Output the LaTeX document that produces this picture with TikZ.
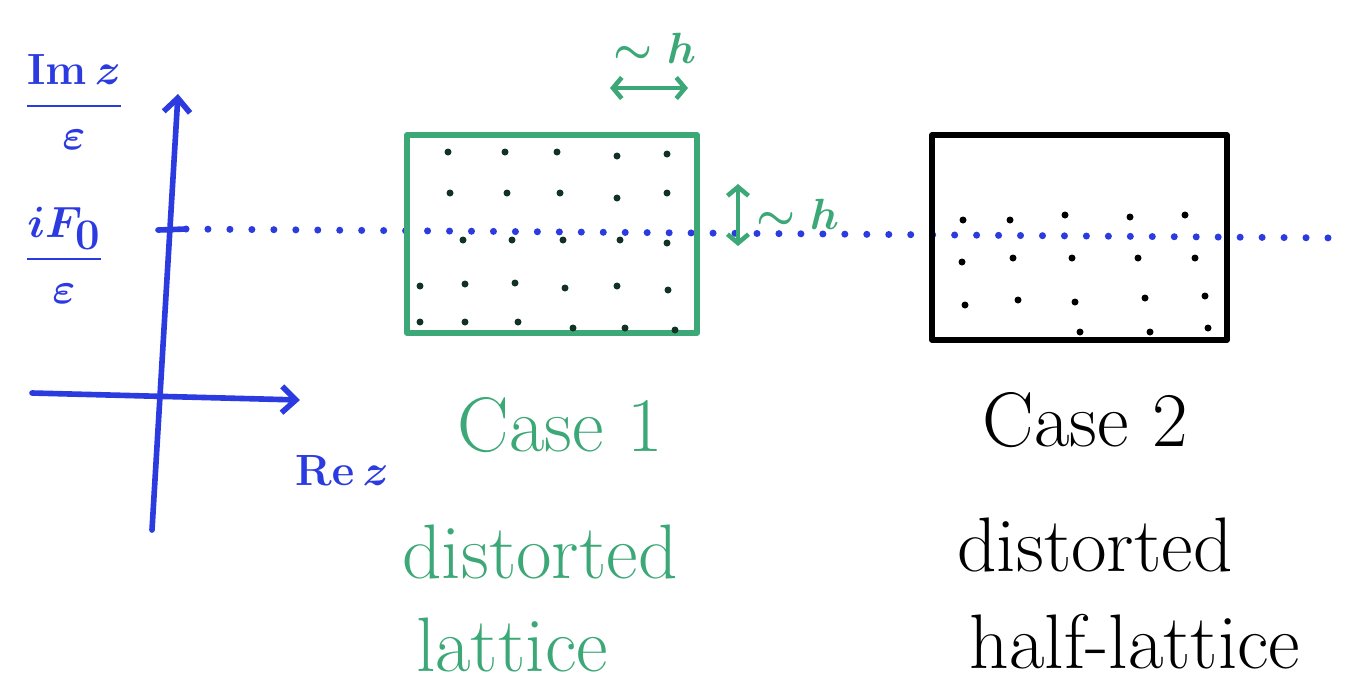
\documentclass[tikz,border=0pt]{standalone}
\usepackage{amsfonts,amsmath,amssymb}
\usepackage{tikz}
\usetikzlibrary{arrows.meta}
\definecolor{penblue}{HTML}{2B3BE0}
\definecolor{pengreen}{HTML}{3DA877}
\tikzset{
  every picture/.style={line join=round, line cap=round, >={Straight Barb[length=8pt,width=15pt]}},
  axis/.style={penblue, line width=3.2pt},
  greenbox/.style={pengreen, line width=3.2pt},
  blackbox/.style={black, line width=3.2pt},
  bigtext/.style={font=\fontsize{44}{48}\selectfont, inner sep=0pt},
  labeltext/.style={font=\fontsize{34}{38}\selectfont\boldmath, inner sep=0pt},
  htext/.style={pengreen, font=\fontsize{28}{30}\selectfont\boldmath, inner sep=0pt},
}

\begin{document}
\begin{tikzpicture}[x=0.02cm, y=-0.02cm]
\useasboundingbox (0,0) rectangle (1346,698);
\coordinate (ybot) at (152,530);
\coordinate (ytop) at (178,94);
\coordinate (xleft) at (32,393);
\coordinate (xright) at (300,400);
\coordinate (tickl) at (158,230);
\coordinate (tickr) at (186,229);
\coordinate (linel) at (186,229);
\coordinate (liner) at (1340,238);
\draw[axis,->] (ybot) -- (ytop);
\draw[axis,->] (xleft) -- (xright);
\draw[axis] (tickl) -- (tickr);
\draw[penblue, line width=4pt, dash pattern=on 0pt off 12.5pt] (linel) -- (liner);
\node[labeltext,penblue] (imz) at (74,102) {$\dfrac{\mathrm{Im}\,z}{\varepsilon}$};
\node[labeltext,penblue] (ifo) at (64,255) {$\dfrac{iF_0}{\varepsilon}$};
\node[labeltext,penblue] (rez) at (342,470) {$\mathrm{Re}\,z$};
\draw[greenbox] (407,135) rectangle (697,333);
\foreach \px/\py in {448/152,505/152,557/152,617/156,667/154,
  450/193,507/193,560/193,617/198,667/193,
  463/240,512/240,563/240,620/240,667/243,
  420/286,465/284,515/283,565/288,617/286,668/290,
  420/322,465/322,518/322,573/328,625/328,675/330}
  \fill[black!70!pengreen] (\px,\py) circle[radius=3.5];
\draw[blackbox] (932,135) rectangle (1227,340);
\foreach \px/\py in {963/220,1010/220,1065/215,1130/217,1185/215,
  962/262,1013/258,1072/258,1138/258,1195/258,
  965/305,1018/300,1075/302,1145/298,1205/296,
  1080/332,1150/332,1208/328}
  \fill (\px,\py) circle[radius=3.5];
\coordinate (hl) at (610,88);
\coordinate (hr) at (688,88);
\draw[pengreen, line width=2.6pt, <->, >={Straight Barb[length=5pt,width=12pt]}] (hl) -- (hr);
\node[htext] (htop) at (655,48) {$\sim h$};
\coordinate (vt) at (738,184);
\coordinate (vb) at (738,246);
\draw[pengreen, line width=2.6pt, <->, >={Straight Barb[length=5pt,width=12pt]}] (vt) -- (vb);
\node[htext] (hside) at (798,214) {$\sim h$};
\node[bigtext,pengreen] (case1) at (560,425) {Case 1};
\node[bigtext,pengreen] (dist1) at (540,552) {distorted};
\node[bigtext,pengreen] (latt1) at (512,645) {lattice};
\node[bigtext] (case2) at (1085,420) {Case 2};
\node[bigtext] (dist2) at (1095,545) {distorted};
\node[bigtext] (latt2) at (1135,642) {half-lattice};
\end{tikzpicture}
\end{document}
